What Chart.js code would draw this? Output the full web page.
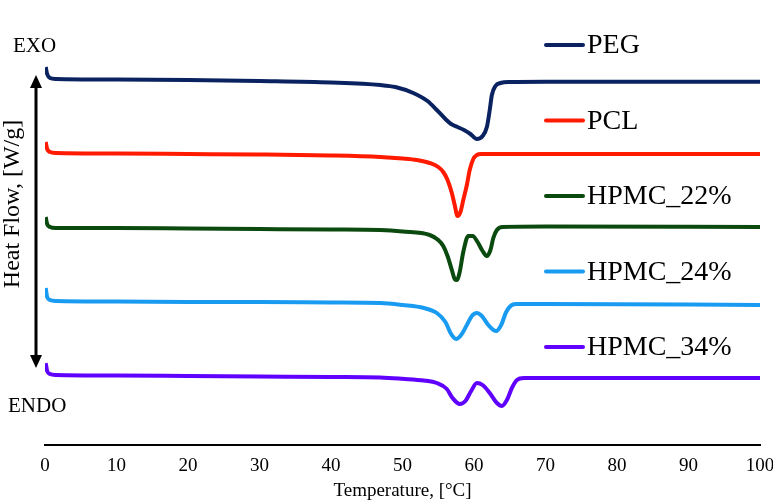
<!DOCTYPE html>
<html>
<head>
<meta charset="utf-8">
<script src="https://cdn.jsdelivr.net/npm/chart.js@4"></script>
<style>
  html, body { margin: 0; padding: 0; background: #fff; }
  #wrap { width: 773px; height: 502px; position: relative; }
</style>
</head>
<body>
<div id="wrap"><canvas id="chart"></canvas></div>
<script>
// DSC thermograms, heat flow in arbitrary stacked units (curves offset)
const labels = ["PEG", "PCL", "HPMC_22%", "HPMC_24%", "HPMC_34%"];
const colors = ["#0a2360", "#ff1a00", "#0b4a0e", "#1a9bf2", "#6000ff"];

const pegT  = [0.1, 0.3, 0.7, 1.5, 10, 20, 30, 40, 46.9, 49, 51.5, 53.5, 54.8, 56, 56.8, 57.7, 58.6, 59.5, 60.4, 61.2, 61.8, 62.2, 62.5, 63, 63.7, 65, 70, 100];
const pegHF = [37.8, 37.1, 36.7, 36.6, 36.55, 36.5, 36.4, 36.25, 36.0, 35.8, 35.2, 34.4, 33.5, 32.6, 32.1, 31.8, 31.5, 31.1, 30.6, 30.9, 31.8, 33.5, 35.0, 35.9, 36.2, 36.3, 36.33, 36.33];

const pclT  = [0.1, 0.3, 0.7, 1.5, 10, 20, 30, 40, 46.9, 50, 52, 53.8, 55, 55.7, 56.3, 56.9, 57.3, 57.7, 58.1, 58.5, 59, 59.4, 59.9, 60.4, 61, 70, 100];
const pclHF = [30.3, 29.6, 29.3, 29.2, 29.15, 29.1, 29.05, 28.95, 28.8, 28.65, 28.5, 28.2, 27.8, 27.3, 26.5, 25.2, 24.0, 22.9, 23.3, 24.5, 26.0, 27.5, 28.6, 29.0, 29.1, 29.1, 29.1];

const hpmc22T  = [0.1, 0.3, 0.7, 1.5, 10, 20, 30, 40, 46.9, 50, 53.8, 55, 55.7, 56.3, 56.9, 57.3, 57.6, 58, 58.5, 59.2, 59.8, 60.5, 61.2, 61.8, 62.3, 62.7, 63.2, 64, 70, 100];
const hpmc22HF = [22.8, 22.1, 21.8, 21.7, 21.7, 21.65, 21.6, 21.55, 21.5, 21.35, 21.0, 20.5, 19.9, 18.9, 17.5, 16.6, 16.5, 17.3, 19.3, 20.9, 20.9, 20.3, 19.4, 18.9, 19.5, 20.7, 21.5, 21.8, 21.85, 21.8];

const hpmc24T  = [0.1, 0.3, 0.7, 1.5, 10, 20, 30, 40, 46.9, 50, 53, 54.8, 56, 56.8, 57.5, 58.2, 59, 59.7, 60.4, 61.1, 62, 63.1, 63.8, 64.5, 65.3, 66, 70, 100];
const hpmc24HF = [15.7, 14.8, 14.5, 14.4, 14.35, 14.3, 14.3, 14.25, 14.2, 14.0, 13.7, 13.2, 12.3, 11.1, 10.6, 11.0, 12.0, 12.9, 13.2, 12.9, 12.0, 11.4, 12.0, 13.3, 14.0, 14.1, 14.1, 14.0];

const hpmc34T  = [0.1, 0.3, 0.7, 1.5, 10, 20, 30, 40, 46.9, 50, 53, 54.8, 56.2, 57, 58, 58.8, 59.6, 60.4, 61.2, 62.2, 63.2, 63.9, 64.6, 65.3, 66, 67, 70, 100];
const hpmc34HF = [8.2, 7.4, 7.1, 7.0, 6.95, 6.9, 6.85, 6.8, 6.75, 6.62, 6.45, 6.2, 5.6, 4.7, 4.1, 4.4, 5.4, 6.2, 6.0, 5.2, 4.2, 3.9, 4.5, 5.7, 6.5, 6.7, 6.7, 6.7];

const xTicks = [0, 10, 20, 30, 40, 50, 60, 70, 80, 90, 100];

const seriesT  = [pegT, pclT, hpmc22T, hpmc24T, hpmc34T];
const seriesHF = [pegHF, pclHF, hpmc22HF, hpmc24HF, hpmc34HF];

const FONT = "'Liberation Serif', 'Times New Roman', serif";

const datasets = labels.map((name, i) => ({
  label: name,
  data: seriesT[i].map((t, j) => ({ x: t, y: seriesHF[i][j] })),
  borderColor: colors[i],
  backgroundColor: colors[i],
  borderWidth: 4,
  pointRadius: 0,
  cubicInterpolationMode: "monotone",
  fill: false,
}));

// legend entries sit between the curves, plus EXO/ENDO and the arrow
const decorations = {
  id: "decorations",
  afterDraw(chart) {
    const ctx = chart.ctx;
    ctx.save();
    // legend
    ctx.font = "28px " + FONT;
    ctx.textBaseline = "middle";
    ctx.textAlign = "left";
    ctx.lineCap = "round";
    chart.data.datasets.forEach((ds, i) => {
      const y = 45 + i * 75.5;
      ctx.strokeStyle = ds.borderColor;
      ctx.lineWidth = 4;
      ctx.beginPath();
      ctx.moveTo(546, y);
      ctx.lineTo(583, y);
      ctx.stroke();
      ctx.fillStyle = "#000";
      ctx.fillText(ds.label, 587, y + 1);
    });
    // EXO / ENDO
    ctx.font = "21px " + FONT;
    ctx.fillText("EXO", 13, 46);
    ctx.fillText("ENDO", 8, 406);
    // double arrow
    const ax = 36, top = 75, bot = 368;
    ctx.strokeStyle = "#000";
    ctx.fillStyle = "#000";
    ctx.lineWidth = 3;
    ctx.lineCap = "butt";
    ctx.beginPath();
    ctx.moveTo(ax, top + 10);
    ctx.lineTo(ax, bot - 10);
    ctx.stroke();
    ctx.beginPath();
    ctx.moveTo(ax, top);
    ctx.lineTo(ax - 6, top + 13);
    ctx.lineTo(ax + 6, top + 13);
    ctx.closePath();
    ctx.fill();
    ctx.beginPath();
    ctx.moveTo(ax, bot);
    ctx.lineTo(ax - 6, bot - 13);
    ctx.lineTo(ax + 6, bot - 13);
    ctx.closePath();
    ctx.fill();
    // y title
    ctx.translate(13, 204);
    ctx.rotate(-Math.PI / 2);
    ctx.textAlign = "center";
    ctx.font = "24px " + FONT;
    ctx.fillText("Heat Flow, [W/g]", 0, 0);
    ctx.restore();
  },
};

new Chart(document.getElementById("chart"), {
  type: "line",
  data: { datasets: datasets },
  options: {
    responsive: true,
    maintainAspectRatio: false,
    animation: false,
    layout: { autoPadding: false, padding: { left: 45, right: 13, top: 20, bottom: 0 } },
    plugins: { legend: { display: false }, tooltip: { enabled: false } },
    scales: {
      x: {
        type: "linear",
        min: 0,
        max: 100,
        afterBuildTicks: (axis) => { axis.ticks = xTicks.map((v) => ({ value: v })); },
        afterFit: (axis) => {
          axis.height = 57;
          // let the "100" label hang over the right edge like the original
          axis.paddingRight = 0;
          axis.paddingLeft = 0;
        },
        grid: { display: false, drawTicks: false },
        border: { color: "#000", width: 2 },
        ticks: { color: "#000", font: { family: FONT, size: 19 }, padding: 10, maxRotation: 0 },
        title: { display: true, text: "Temperature, [°C]", color: "#000", font: { family: FONT, size: 19 }, padding: { top: 0, bottom: 0 } },
      },
      y: { display: false, min: 0, max: 42.5 },
    },
  },
  plugins: [decorations],
});
</script>
</body>
</html>
